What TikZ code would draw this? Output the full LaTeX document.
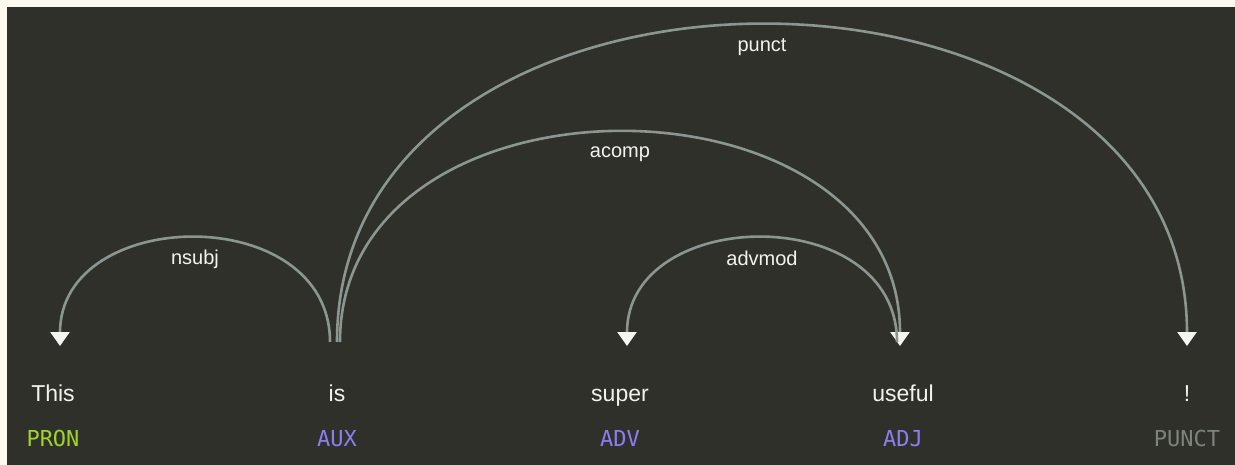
\documentclass[tikz,border=0pt]{standalone}
\usepackage{fontspec}
\setmainfont{Liberation Sans}
\newfontfamily\posfont{DejaVu Sans Mono}
\usetikzlibrary{arrows.meta}
\definecolor{bgcream}{RGB}{254,249,239}
\definecolor{bgdark}{RGB}{48,48,43}
\definecolor{arcgrey}{RGB}{140,150,145}
\definecolor{tipwhite}{RGB}{244,244,240}
\definecolor{wordwhite}{RGB}{242,242,238}
\definecolor{posgreen}{RGB}{160,210,45}
\definecolor{pospurple}{RGB}{140,125,240}
\definecolor{posgrey}{RGB}{125,130,125}
\begin{document}
\begin{tikzpicture}[x=1pt,y=-1pt,
  word/.style={anchor=base,text=wordwhite,font=\fontsize{23}{27}\selectfont,inner sep=0pt},
  tag/.style={anchor=base,font=\posfont\fontsize{22}{26}\selectfont,inner sep=0pt},
  deplabel/.style={anchor=base,text=wordwhite,font=\fontsize{20}{24}\selectfont,inner sep=0pt},
  deparc/.style={draw=arcgrey,line width=2.6pt,-{Triangle[width=19pt,length=14pt,color=tipwhite]}}]
\fill[bgcream] (0,0) rectangle (1235,465);
\fill[bgdark] (7,7) rectangle (1235,465);
\useasboundingbox (0,0) rectangle (1235,465);
% words
\node[word] (w1) at (53,401) {This};
\node[word] (w2) at (337,401) {is};
\node[word] (w3) at (620,401) {super};
\node[word] (w4) at (903,401) {useful};
\node[word] (w5) at (1187,401) {!};
% tags
\node[tag,text=posgreen] (t1) at (53,446) {PRON};
\node[tag,text=pospurple] (t2) at (337,446) {AUX};
\node[tag,text=pospurple] (t3) at (620,446) {ADV};
\node[tag,text=pospurple] (t4) at (903,446) {ADJ};
\node[tag,text=posgrey] (t5) at (1187,446) {PUNCT};
% arc end points
\coordinate (nsubjS) at (330,342);
\coordinate (nsubjE) at (60,346);
\coordinate (acompS) at (340,342);
\coordinate (acompE) at (900,346);
\coordinate (punctS) at (337,342);
\coordinate (punctE) at (1187,346);
\coordinate (advmodS) at (897,342);
\coordinate (advmodE) at (627,346);
% arcs
\draw[deparc] (nsubjS) .. controls +(0,-141) and +(0,-141) .. (nsubjE);
\draw[deparc] (acompS) .. controls +(0,-282) and +(0,-282) .. (acompE);
\draw[deparc] (punctS) .. controls +(0,-425) and +(0,-425) .. (punctE);
\draw[deparc] (advmodS) .. controls +(0,-141) and +(0,-141) .. (advmodE);
% labels
\node[deplabel] (l1) at (195,265) {nsubj};
\node[deplabel] (l2) at (620,158) {acomp};
\node[deplabel] (l3) at (762,266) {advmod};
\node[deplabel] (l4) at (762,52) {punct};
\end{tikzpicture}
\end{document}
